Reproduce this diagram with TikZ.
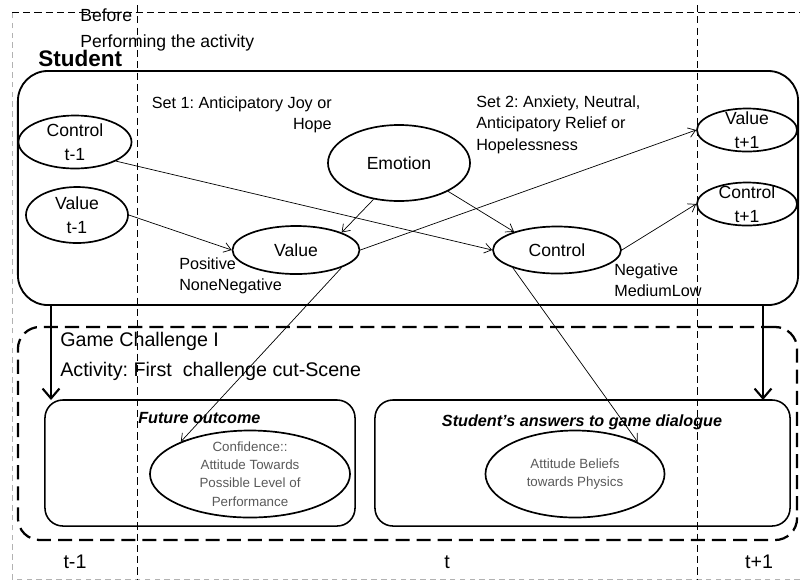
\documentclass[tikz,border=0pt]{standalone}
\usepackage{fontspec}
\setmainfont{Liberation Sans}
\usepackage{tikz}
\usetikzlibrary{arrows.meta, shapes.geometric}
\frenchspacing

\begin{document}
\begin{tikzpicture}[x=0.025cm, y=-0.025cm,
  state/.style={ellipse, draw, line width=1.2pt, inner xsep=0pt, inner ysep=-6pt, align=center, font=\fontsize{12.5}{17.5}\selectfont},
  small state/.style={state, text=black!65, font=\fontsize{9.5}{13}\selectfont},
  phase/.style={draw, rounded corners=0.45cm, line width=1.1pt},
  link/.style={-{Straight Barb[length=5pt,width=7pt]}, line width=0.5pt},
  flow/.style={-{Straight Barb[length=7pt,width=12pt]}, line width=1.5pt},
  note/.style={align=left, inner sep=0pt, font=\fontsize{11.5}{15.6}\selectfont},
  tick/.style={inner sep=0pt, font=\fontsize{14}{16}\selectfont},
  timeline/.style={line width=0.5pt, dash pattern=on 5pt off 3pt}]
  \useasboundingbox (0,0) rectangle (800,581);

  \draw[gray!60, line width=0.7pt, dash pattern=on 4pt off 3pt] (800,579) -- (12,579) -- (12,12);
  \draw[line width=0.5pt, dash pattern=on 5pt off 3pt] (12,12) -- (800,12);

  \node[draw, rounded corners=0.75cm, line width=1.3pt, minimum width=19.5cm, minimum height=5.85cm] (student) at (408,188) {};
  \node[draw, rounded corners=0.55cm, line width=1.6pt, dash pattern=on 10pt off 5pt, minimum width=19.475cm, minimum height=5.325cm] (game) at (407.5,433.5) {};
  \node[phase, minimum width=7.75cm, minimum height=3.15cm] (future) at (200,463) {};
  \node[phase, minimum width=10.375cm, minimum height=3.15cm] (answers) at (582.5,463) {};

  \node[anchor=north west, inner sep=0pt, align=left, font=\fontsize{12.5}{19}\selectfont] (before) at (80,8) {Before\\Performing the activity};
  \node[anchor=base west, inner sep=0pt, font=\fontsize{16}{19}\selectfont\bfseries] (title) at (38,66) {Student};

  \node[state, minimum width=2.825cm, minimum height=1.325cm] (ctlPrev) at (75,142) {Control\\t-1};
  \node[state, minimum width=2.55cm, minimum height=1.4cm] (valPrev) at (77,215) {Value\\t-1};
  \node[state, minimum width=3.55cm, minimum height=1.9cm] (emotion) at (399,163) {Emotion};
  \node[state, minimum width=3.175cm, minimum height=1.2cm] (valNow) at (296,250) {Value};
  \node[state, minimum width=3.2cm, minimum height=1.175cm] (ctlNow) at (557,250) {Control};
  \node[state, minimum width=2.5cm, minimum height=1.075cm] (valNext) at (747,130) {Value\\t+1};
  \node[state, minimum width=2.5cm, minimum height=1.075cm] (ctlNext) at (747,204) {Control\\t+1};
  \node[small state, minimum width=5cm, minimum height=2.175cm] (confidence) at (250,474) {Confidence::\\Attitude Towards\\Possible Level of\\Performance};
  \node[small state, minimum width=4.475cm, minimum height=2.175cm] (beliefs) at (575,474) {Attitude Beliefs\\towards Physics};

  \node[note, anchor=north east, align=right] (setOne) at (332,96) {Set 1: Anticipatory Joy or\\Hope};
  \node[note, anchor=north west] (setTwo) at (476,95) {Set 2: Anxiety, Neutral,\\Anticipatory Relief or\\Hopelessness};
  \node[note, anchor=north west, font=\fontsize{11.5}{15}\selectfont] (valRange) at (179,257) {Positive\\NoneNegative};
  \node[note, anchor=north west] (ctlRange) at (614,263) {Negative\\MediumLow};

  \node[anchor=north west, inner sep=0pt, align=left, font=\fontsize{14}{21.5}\selectfont] (challenge) at (60,332) {Game Challenge I\\Activity: First\ \ challenge cut-Scene};
  \node[anchor=north west, inner sep=0pt, font=\fontsize{11.5}{14}\selectfont\bfseries\itshape] (futureTitle) at (138,412) {Future outcome};
  \node[anchor=north, inner sep=0pt, font=\fontsize{11.5}{14}\selectfont\bfseries\itshape] (answersTitle) at (582,414) {Student's answers to game dialogue};

  \node[tick] (tPrev) at (75,562) {t-1};
  \node[tick] (tNow) at (447,562) {t};
  \node[tick] (tNext) at (759,562) {t+1};

  \draw[link] (ctlPrev.-25) -- (ctlNow.west);
  \draw[link] (valPrev.east) -- (valNow.west);
  \draw[link] (emotion.-125) -- (valNow.21);
  \draw[link] (emotion.-30) -- (ctlNow.157);
  \draw[link] (valNow.east) -- (valNext.west);
  \draw[link] (ctlNow.east) -- (ctlNext.west);
  \draw[link] (valNow.-21) -- (confidence.155);
  \draw[link] (ctlNow.-158) -- (beliefs.27);

  \coordinate (dropL) at (51,400);
  \coordinate (dropR) at (763,400);
  \draw[flow] (student.south -| dropL) -- (dropL);
  \draw[flow] (student.south -| dropR) -- (dropR);

  \draw[timeline] (137,5) -- (137,580);
  \draw[timeline] (697,5) -- (697,580);
\end{tikzpicture}
\end{document}
